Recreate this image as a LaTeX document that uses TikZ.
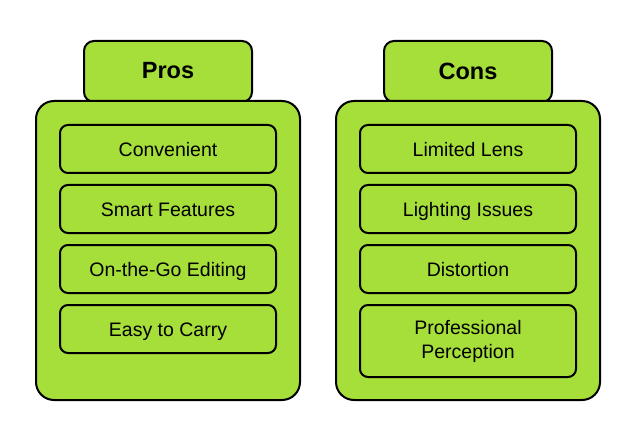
\documentclass[tikz,border=0pt]{standalone}
\usepackage{fontspec}
\setmainfont{Liberation Sans}
\definecolor{lime}{RGB}{166,222,58}
\begin{document}
\begin{tikzpicture}[x=1pt,y=-1pt,
  tabbox/.style={draw=black, fill=lime, line width=2pt, rounded corners=10pt},
  panel/.style={draw=black, fill=lime, line width=2pt, rounded corners=18pt},
  item/.style={draw=black, fill=lime, line width=2pt, rounded corners=8pt, minimum width=216pt, align=center, inner sep=0pt, font=\fontsize{19.5}{24}\selectfont},
  oneline/.style={text height=17pt, text depth=2pt},
  title/.style={font=\fontsize{23.5}{28}\selectfont\bfseries}]
\useasboundingbox (0,0) rectangle (636,430);
% Pros
\draw[tabbox] (84,102) rectangle (252,41);
\node[title] (prost) at (168,71) {Pros};
\draw[panel] (36,101) rectangle (300,400);
\node[item, oneline, minimum height=48pt] (p1) at (168,149) {Convenient};
\node[item, oneline, minimum height=48pt] (p2) at (168,209) {Smart Features};
\node[item, oneline, minimum height=48pt] (p3) at (168,269) {On-the-Go Editing};
\node[item, oneline, minimum height=48pt] (p4) at (168,329) {Easy to Carry};
% Cons
\draw[tabbox] (384,102) rectangle (552,41);
\node[title] (const) at (468,71) {Cons};
\draw[panel] (336,101) rectangle (600,400);
\node[item, oneline, minimum height=48pt] (c1) at (468,149) {Limited Lens};
\node[item, oneline, minimum height=48pt] (c2) at (468,209) {Lighting Issues};
\node[item, oneline, minimum height=48pt] (c3) at (468,269) {Distortion};
\node[item, minimum height=72pt] (c4) at (468,341) {Professional\\Perception};
\end{tikzpicture}
\end{document}
